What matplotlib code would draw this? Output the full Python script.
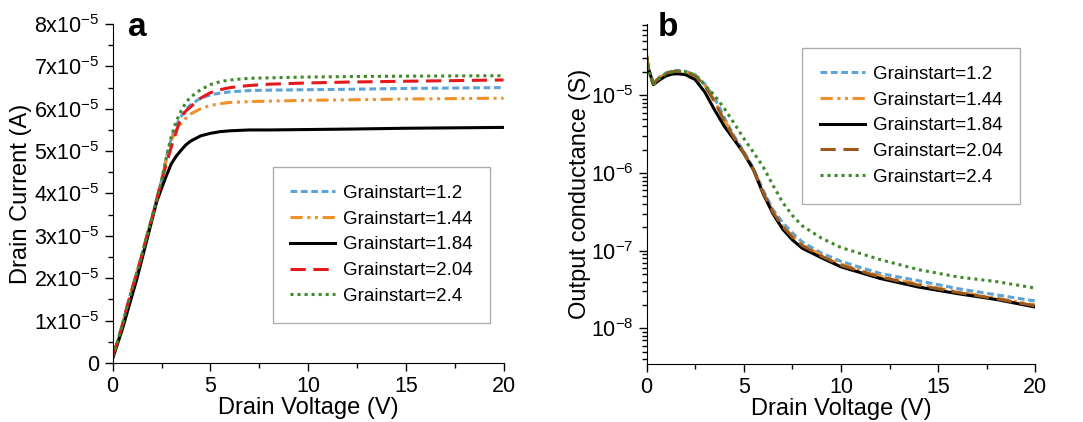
import matplotlib
matplotlib.use('Agg')
import matplotlib.pyplot as plt
from matplotlib.ticker import FixedLocator, MultipleLocator, LogLocator, NullFormatter

plt.rcParams['font.family'] = ['Liberation Sans', 'DejaVu Sans']
plt.rcParams['mathtext.fontset'] = 'custom'
plt.rcParams['mathtext.rm'] = 'Liberation Sans'
plt.rcParams['mathtext.it'] = 'Liberation Sans'

labels = ['Grainstart=1.2', 'Grainstart=1.44', 'Grainstart=1.84', 'Grainstart=2.04', 'Grainstart=2.4']
colors = ['#5ba3d9', '#f0902a', '#000000', '#e3191c', '#3f8a2a']
colors_b = ['#5ba3d9', '#f0902a', '#000000', '#9a5a1e', '#3f8a2a']
styles = [(0, (2.2, 1.2)), (0, (4, 1.5, 1, 1.5, 1, 1.5)), '-', (0, (5, 2.5)), (0, (1, 1.3))]

# panel a: drain current (x1e-5 A)
va = [0, 0.25, 0.5, 0.75, 1, 1.25, 1.5, 1.75, 2, 2.25, 2.5, 2.75, 3, 3.25, 3.5, 3.75, 4,
      4.5, 5, 5.5, 6, 7, 8, 10, 12, 15, 20]
ia_12 = [0.15, 0.5, 0.9, 1.35, 1.75, 2.15, 2.55, 3.0, 3.4, 3.85, 4.3, 4.85, 5.3, 5.6, 5.82, 5.98, 6.1,
         6.25, 6.33, 6.37, 6.4, 6.43, 6.44, 6.45, 6.46, 6.48, 6.5]
ia_144 = [0.15, 0.5, 0.9, 1.35, 1.75, 2.15, 2.55, 3.0, 3.4, 3.85, 4.3, 4.8, 5.25, 5.5, 5.65, 5.78, 5.88,
          6.0, 6.08, 6.12, 6.15, 6.17, 6.18, 6.2, 6.21, 6.23, 6.25]
ia_184 = [0.1, 0.45, 0.8, 1.2, 1.6, 2.0, 2.45, 2.9, 3.35, 3.8, 4.12, 4.42, 4.7, 4.88, 5.02, 5.15, 5.24,
          5.36, 5.42, 5.46, 5.48, 5.5, 5.5, 5.51, 5.52, 5.54, 5.56]
ia_204 = [0.15, 0.5, 0.9, 1.35, 1.75, 2.15, 2.55, 3.0, 3.4, 3.85, 4.3, 4.7, 5.1, 5.45, 5.8, 5.95, 6.05,
          6.25, 6.38, 6.45, 6.5, 6.55, 6.58, 6.61, 6.63, 6.65, 6.68]
ia_24 = [0.15, 0.5, 0.9, 1.35, 1.75, 2.15, 2.55, 3.0, 3.4, 3.85, 4.3, 4.85, 5.35, 5.7, 5.95, 6.15, 6.28,
         6.45, 6.57, 6.64, 6.68, 6.72, 6.73, 6.75, 6.76, 6.77, 6.78]

# panel b: output conductance (S)
vb = [0, 0.1, 0.35, 0.7, 1.0, 1.3, 1.6, 2.0, 2.5, 3.0, 3.5, 4.0, 4.5, 5.0, 5.5, 6.0, 6.5, 7.0,
      7.5, 8, 9, 10, 12, 14, 16, 18, 20]
gb_12 = [3.2e-5, 2.2e-5, 1.45e-5, 1.75e-5, 1.95e-5, 2.05e-5, 2.1e-5, 2.05e-5, 1.85e-5, 1.4e-5, 9.3e-6, 5.2e-6, 3.0e-6,
         1.9e-6, 1.15e-6, 6.0e-7, 3.4e-7, 2.3e-7, 1.7e-7, 1.3e-7, 9.3e-8, 7.3e-8, 5.1e-8, 4.1e-8, 3.25e-8, 2.7e-8, 2.25e-8]
gb_144 = [3.3e-5, 2.2e-5, 1.42e-5, 1.72e-5, 1.92e-5, 2.02e-5, 2.05e-5, 2.0e-5, 1.8e-5, 1.35e-5, 8.5e-6, 4.8e-6, 2.9e-6,
          1.85e-6, 1.12e-6, 5.7e-7, 3.2e-7, 2.1e-7, 1.55e-7, 1.2e-7, 8.7e-8, 6.7e-8, 4.7e-8, 3.7e-8, 2.95e-8, 2.45e-8, 2.0e-8]
gb_184 = [3.2e-5, 2.2e-5, 1.38e-5, 1.6e-5, 1.78e-5, 1.88e-5, 1.9e-5, 1.85e-5, 1.6e-5, 1.1e-5, 6.5e-6, 4.0e-6, 2.7e-6,
          1.8e-6, 1.1e-6, 5.4e-7, 3.0e-7, 1.9e-7, 1.38e-7, 1.08e-7, 8.1e-8, 6.2e-8, 4.4e-8, 3.4e-8, 2.8e-8, 2.35e-8, 1.88e-8]
gb_204 = [3.3e-5, 2.2e-5, 1.42e-5, 1.72e-5, 1.92e-5, 2.02e-5, 2.05e-5, 2.0e-5, 1.78e-5, 1.33e-5, 8.3e-6, 4.7e-6, 2.85e-6,
          1.83e-6, 1.1e-6, 5.6e-7, 3.15e-7, 2.05e-7, 1.5e-7, 1.17e-7, 8.5e-8, 6.5e-8, 4.6e-8, 3.6e-8, 2.9e-8, 2.4e-8, 1.95e-8]
gb_24 = [3.0e-5, 2.1e-5, 1.35e-5, 1.7e-5, 1.9e-5, 2.0e-5, 2.05e-5, 2.0e-5, 1.85e-5, 1.35e-5, 1.0e-5, 6.8e-6, 4.4e-6,
         2.8e-6, 1.85e-6, 1.2e-6, 7.0e-7, 4.2e-7, 2.85e-7, 2.1e-7, 1.45e-7, 1.1e-7, 7.7e-8, 5.7e-8, 4.6e-8, 4.0e-8, 3.3e-8]

ia = [ia_12, ia_144, ia_184, ia_204, ia_24]
gb = [gb_12, gb_144, gb_184, gb_204, gb_24]

yticks_a = [0, 1, 2, 3, 4, 5, 6, 7, 8]
yticklabels_a = ['0'] + [r'$%dx10^{-5}$' % k for k in yticks_a[1:]]

fig = plt.figure(figsize=(10.83, 4.22), dpi=100)
ax1 = fig.add_axes([0.104, 0.140, 0.361, 0.803])
ax2 = fig.add_axes([0.597, 0.138, 0.359, 0.805])

for ax in (ax1, ax2):
    ax.spines['top'].set_visible(False)
    ax.spines['right'].set_visible(False)
    ax.tick_params(which='both', direction='out', labelsize=15.5)
    ax.tick_params(which='major', length=6, width=1)
    ax.tick_params(which='minor', length=3.5, width=1)
    ax.set_xlim(0, 20)
    ax.xaxis.set_major_locator(MultipleLocator(5))
    ax.xaxis.set_minor_locator(MultipleLocator(2.5))
    ax.set_xlabel('Drain Voltage (V)', fontsize=17, labelpad=0)

for k in range(5):
    ax1.plot(va, ia[k], color=colors[k], linestyle=styles[k], lw=2.2, label=labels[k])
ax1.set_ylim(0, 8)
ax1.yaxis.set_major_locator(FixedLocator(yticks_a))
ax1.set_yticklabels(yticklabels_a)
ax1.yaxis.set_minor_locator(MultipleLocator(0.5))
ax1.set_ylabel('Drain Current (A)', fontsize=17)
ax1.yaxis.set_label_coords(-0.205, 0.5)
leg1 = ax1.legend(loc='upper left', bbox_to_anchor=(0.409, 0.578), fontsize=13.5, frameon=True,
                  fancybox=False, edgecolor='#999999', handlelength=2.4, handletextpad=0.4,
                  borderpad=0.95, labelspacing=0.46, borderaxespad=0)
leg1.get_frame().set_linewidth(1)

for k in range(5):
    ax2.plot(vb, gb[k], color=colors_b[k], linestyle=styles[k], lw=2.2, label=labels[k])
ax2.set_yscale('log')
ax2.set_ylim(3.5e-9, 8.3e-5)
ax2.yaxis.set_major_locator(LogLocator(base=10, numticks=10))
ax2.yaxis.set_minor_locator(LogLocator(base=10, subs=range(2, 10), numticks=20))
ax2.yaxis.set_minor_formatter(NullFormatter())
ax2.set_ylabel('Output conductance (S)', fontsize=17)
ax2.yaxis.set_label_coords(-0.144, 0.5)
leg2 = ax2.legend(loc='upper left', bbox_to_anchor=(0.401, 0.93), fontsize=13.5, frameon=True,
                  fancybox=False, edgecolor='#999999', handlelength=2.4, handletextpad=0.4,
                  borderpad=0.95, labelspacing=0.46, borderaxespad=0)
leg2.get_frame().set_linewidth(1)

fig.text(0.118, 0.935, 'a', fontsize=24, fontweight='bold', va='center')
fig.text(0.607, 0.935, 'b', fontsize=24, fontweight='bold', va='center')

fig.savefig('out.png', dpi=100)
